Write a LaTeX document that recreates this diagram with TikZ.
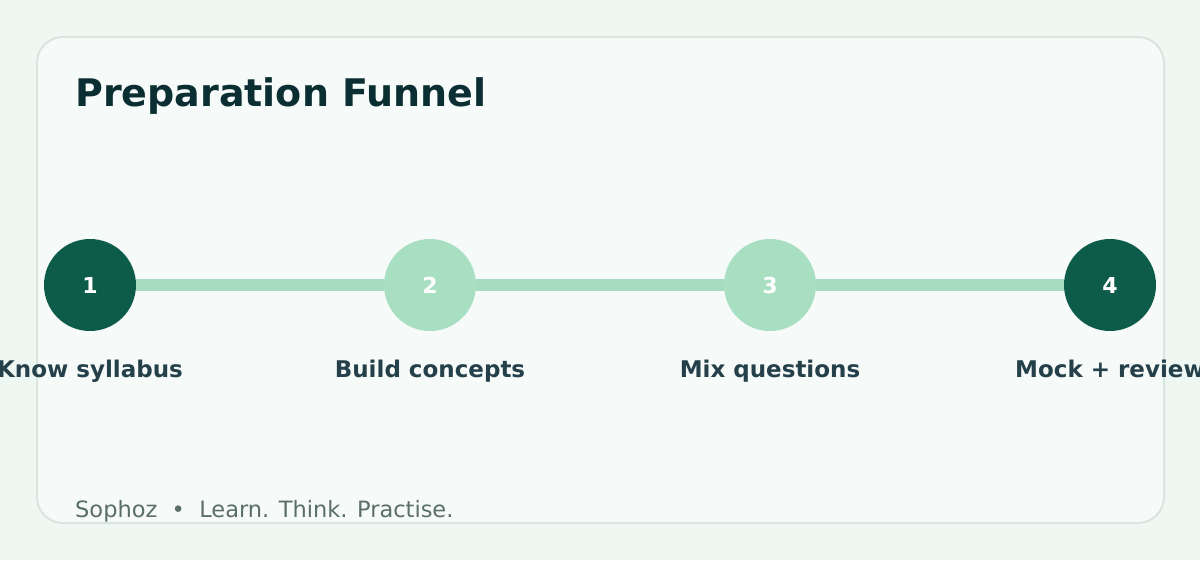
\documentclass[tikz,border=0pt]{standalone}
\usepackage{fontspec}
\setmainfont{DejaVu Sans}
\begin{document}
\begin{tikzpicture}[x=1pt,y=-1pt,
  dark/.style={circle,fill=dk,minimum size=92pt,inner sep=0pt,text=white,font=\bfseries\fontsize{22}{26}\selectfont},
  light/.style={circle,fill=lt,minimum size=92pt,inner sep=0pt,text=white,font=\bfseries\fontsize{22}{26}\selectfont},
  lab/.style={text=labc,inner sep=0pt,font=\bfseries\fontsize{23}{27}\selectfont}]
\definecolor{bg}{HTML}{EFF7F3}\definecolor{card}{HTML}{F6FAF8}\definecolor{bd}{HTML}{D9E6E0}
\definecolor{dk}{HTML}{0D5C4A}\definecolor{lt}{HTML}{A8DFC1}\definecolor{ln}{HTML}{A8DCC0}
\definecolor{ttl}{HTML}{0B2E33}\definecolor{labc}{HTML}{24404A}\definecolor{ft}{HTML}{5A6E6A}
\fill[bg] (0,0) rectangle (1200,560);
\useasboundingbox (0,0) rectangle (1200,560);
\draw[bd,fill=card,line width=2pt,rounded corners=26pt] (37,37) rectangle (1164,523);
\node[anchor=base west,inner sep=0pt,text=ttl,font=\bfseries\fontsize{38}{44}\selectfont] (t) at (75,106) {Preparation Funnel};
\node[dark] (a) at (90,285) {1};
\node[light] (b) at (430,285) {2};
\node[light] (c) at (770,285) {3};
\node[dark] (d) at (1110,285) {4};
\draw[ln,line width=12pt] (a.east) -- (b.west) (b.east) -- (c.west) (c.east) -- (d.west);
\node[lab,anchor=base] (la) at (90,377) {Know syllabus};
\node[lab,anchor=base] (lb) at (430,377) {Build concepts};
\node[lab,anchor=base] (lc) at (770,377) {Mix questions};
\node[lab,anchor=base] (ld) at (1110,377) {Mock + review};
\node[anchor=base west,inner sep=0pt,text=ft,font=\fontsize{22.5}{26}\selectfont] (f) at (75,517) {Sophoz\ \ •\ \ Learn. Think. Practise.};
\end{tikzpicture}
\end{document}
